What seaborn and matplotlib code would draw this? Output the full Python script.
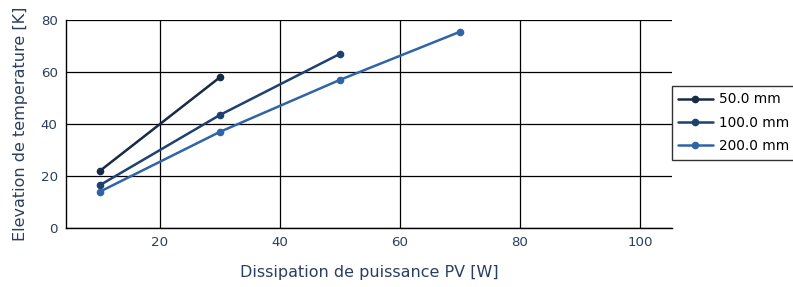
import matplotlib
matplotlib.use("Agg")
import matplotlib.pyplot as plt
import seaborn as sns
import pandas as pd

# Data
x_50 = [10, 30]
y_50 = [22, 58]
x_100 = [10, 30, 50]
y_100 = [16.5, 43.5, 67]
x_200 = [10, 30, 50, 70]
y_200 = [14, 37, 57, 75.5]
labels = ["50.0 mm", "100.0 mm", "200.0 mm"]
colors = ["#172a47", "#1f4170", "#2f64a8"]

df = pd.concat([
    pd.DataFrame({"x": x_50, "y": y_50, "s": labels[0]}),
    pd.DataFrame({"x": x_100, "y": y_100, "s": labels[1]}),
    pd.DataFrame({"x": x_200, "y": y_200, "s": labels[2]}),
])

sns.set_style("white")
plt.rcParams['font.family'] = ['DejaVu Sans']
fig = plt.figure(figsize=(7.93, 2.87), dpi=100)
ax = fig.add_axes([0.0832, 0.2056, 0.847 - 0.0832, 0.930 - 0.2056])

txt = "#2a3f5f"
sns.lineplot(data=df, x="x", y="y", hue="s", palette=dict(zip(labels, colors)),
             marker="o", markersize=5.5, markeredgewidth=0, linewidth=1.8, ax=ax,
             legend=True)

ax.set_xlim(4.33, 105.3)
ax.set_ylim(0, 80)
ax.set_xticks([20, 40, 60, 80, 100])
ax.set_yticks([0, 20, 40, 60, 80])
ax.grid(True, color="black", linewidth=0.9)
ax.set_axisbelow(True)
for s in ["top", "right"]:
    ax.spines[s].set_visible(False)
for s in ["left", "bottom"]:
    ax.spines[s].set_color("black")
    ax.spines[s].set_linewidth(1.0)
ax.tick_params(axis="both", length=0, labelsize=9.6, labelcolor=txt, pad=6)
ax.set_xlabel("Dissipation de puissance PV [W]", fontsize=11.5, color=txt, labelpad=11)
ax.set_ylabel("Elevation de temperature [K]", fontsize=11.5, color=txt, labelpad=9)

leg = ax.legend(loc="upper left", bbox_to_anchor=(1.0, 0.685), borderaxespad=0,
                frameon=True, fancybox=False, fontsize=9.8, handlelength=2.5,
                handletextpad=0.5, labelspacing=0.68,
                borderpad=0.5, edgecolor="black")
leg.get_frame().set_linewidth(1.0)
for t in leg.get_texts():
    t.set_color("black")

fig.savefig("out.png", dpi=100)
